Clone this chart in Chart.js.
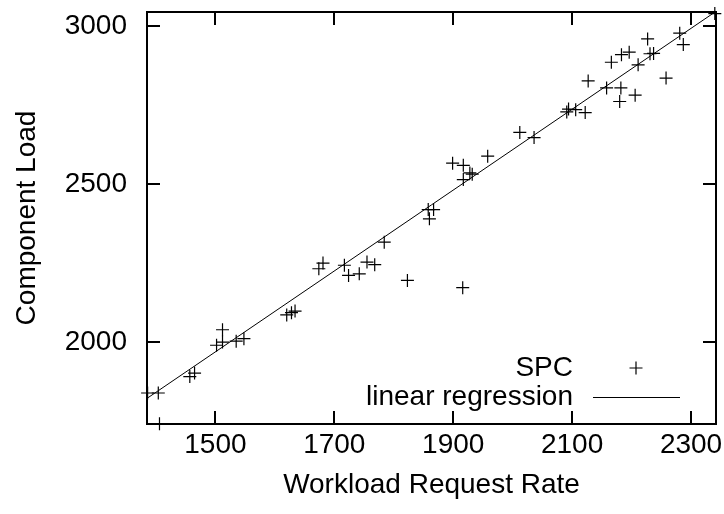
<!DOCTYPE html>
<html>
<head>
<meta charset="utf-8">
<script src="https://cdn.jsdelivr.net/npm/chart.js@4/dist/chart.umd.min.js"></script>
<style>
  html, body { margin: 0; padding: 0; background: #fff; }
  #wrap { width: 724px; height: 514px; }
</style>
</head>
<body>
<div id="wrap"><canvas id="c" width="724" height="514"></canvas></div>
<script>
// ---- data ----
const workloadRate = [1386, 1404, 1406, 1457, 1465, 1502, 1512, 1512, 1535, 1548,
  1620, 1628, 1634, 1674, 1681, 1717, 1724, 1742, 1755, 1768,
  1784, 1823, 1858, 1867, 1860, 1899, 1917, 1916, 1917, 1928,
  1932, 1958, 2012, 2036, 2091, 2094, 2106, 2122, 2127, 2158,
  2180, 2182, 2166, 2183, 2196, 2206, 2211, 2227, 2231, 2237,
  2258, 2281, 2287, 2340];
const componentLoad = [1840, 1840, 1743, 1892, 1903, 1991, 2001, 2040, 2004, 2012,
  2087, 2094, 2099, 2233, 2251, 2244, 2212, 2217, 2254, 2246,
  2317, 2196, 2420, 2420, 2391, 2567, 2560, 2173, 2515, 2536,
  2532, 2589, 2664, 2648, 2729, 2738, 2736, 2727, 2827, 2805,
  2762, 2805, 2886, 2910, 2918, 2782, 2878, 2960, 2913, 2914,
  2836, 2978, 2942, 3040];
const regressionX = [1385, 2342];
const regressionY = [1823, 3047];
const xTickValues = [1500, 1700, 1900, 2100, 2300];
const yTickValues = [2000, 2500, 3000];
const xRange = [1385, 2342];
const yRange = [1742, 3045];
const seriesNames = ['SPC', 'linear regression'];
const xTitle = 'Workload Request Rate';
const yTitle = 'Component Load';

const FONT = '"Liberation Sans", Arial, Helvetica, sans-serif';
const FS = 28;

const spcPoints = workloadRate.map((x, i) => ({ x: x, y: componentLoad[i] }));
const regPoints = regressionX.map((x, i) => ({ x: x, y: regressionY[i] }));

const framePlugin = {
  id: 'gnuplotFrame',
  afterDatasetsDraw(chart) {
    const ctx = chart.ctx;
    const a = chart.chartArea;
    const xs = chart.scales.x, ys = chart.scales.y;
    const T = 13;
    ctx.save();
    ctx.strokeStyle = '#000';
    ctx.lineWidth = 2;
    ctx.beginPath();
    xTickValues.forEach(v => {
      const p = Math.round(xs.getPixelForValue(v));
      ctx.moveTo(p, a.bottom); ctx.lineTo(p, a.bottom - T);
      ctx.moveTo(p, a.top); ctx.lineTo(p, a.top + T);
    });
    yTickValues.forEach(v => {
      const p = Math.round(ys.getPixelForValue(v));
      ctx.moveTo(a.left, p); ctx.lineTo(a.left + T, p);
      ctx.moveTo(a.right, p); ctx.lineTo(a.right - T, p);
    });
    ctx.stroke();
    ctx.strokeRect(a.left, a.top, a.right - a.left, a.bottom - a.top);

    // key (legend) in gnuplot style
    const textRight = 573;
    ctx.fillStyle = '#000';
    ctx.font = FS + 'px ' + FONT;
    ctx.textAlign = 'right';
    ctx.textBaseline = 'middle';
    const d = chart.data.datasets;
    ctx.fillText(d[0].label, textRight, 368);
    ctx.fillText(d[1].label, textRight, 397);
    ctx.lineWidth = 1.2;
    ctx.beginPath();
    ctx.moveTo(636 - 6.5, 368); ctx.lineTo(636 + 6.5, 368);
    ctx.moveTo(636, 368 - 6.5); ctx.lineTo(636, 368 + 6.5);
    ctx.stroke();
    ctx.lineWidth = 1;
    ctx.beginPath();
    ctx.moveTo(593, 397.5); ctx.lineTo(680, 397.5);
    ctx.stroke();
    ctx.restore();
  }
};

new Chart(document.getElementById('c'), {
  type: 'scatter',
  data: {
    datasets: [
      {
        label: seriesNames[0],
        data: spcPoints,
        pointStyle: 'cross',
        pointRadius: 6.5,
        pointHoverRadius: 6.5,
        borderColor: '#000',
        backgroundColor: '#000',
        pointBorderWidth: 1.2,
        clip: false
      },
      {
        label: seriesNames[1],
        type: 'line',
        data: regPoints,
        borderColor: '#000',
        borderWidth: 1,
        pointRadius: 0,
        fill: false,
        tension: 0
      }
    ]
  },
  options: {
    responsive: false,
    animation: false,
    events: [],
    layout: { padding: { top: 12, right: 8, left: 0, bottom: 0 } },
    plugins: { legend: { display: false }, tooltip: { enabled: false } },
    scales: {
      x: {
        type: 'linear',
        min: xRange[0],
        max: xRange[1],
        grid: { display: false, drawTicks: false },
        border: { display: false },
        afterBuildTicks(scale) { scale.ticks = xTickValues.map(v => ({ value: v })); },
        afterFit(scale) { scale.height = 90; scale.paddingLeft = 0; scale.paddingRight = 0; },
        ticks: {
          color: '#000',
          font: { family: FONT, size: FS },
          padding: 4,
          maxRotation: 0,
          autoSkip: false,
          callback: v => String(v)
        },
        title: {
          display: true,
          text: xTitle,
          color: '#000',
          font: { family: FONT, size: FS },
          padding: { top: 0, bottom: 12 }
        }
      },
      y: {
        type: 'linear',
        min: yRange[0],
        max: yRange[1],
        grid: { display: false, drawTicks: false },
        border: { display: false },
        afterBuildTicks(scale) { scale.ticks = yTickValues.map(v => ({ value: v })); },
        afterFit(scale) { scale.width = 147; scale.paddingTop = 0; scale.paddingBottom = 0; },
        ticks: {
          color: '#000',
          font: { family: FONT, size: FS },
          padding: 20,
          autoSkip: false,
          callback: v => String(v)
        },
        title: {
          display: true,
          text: yTitle,
          color: '#000',
          font: { family: FONT, size: FS },
          padding: { top: 10, bottom: 0 }
        }
      }
    }
  },
  plugins: [framePlugin]
});
</script>
</body>
</html>
